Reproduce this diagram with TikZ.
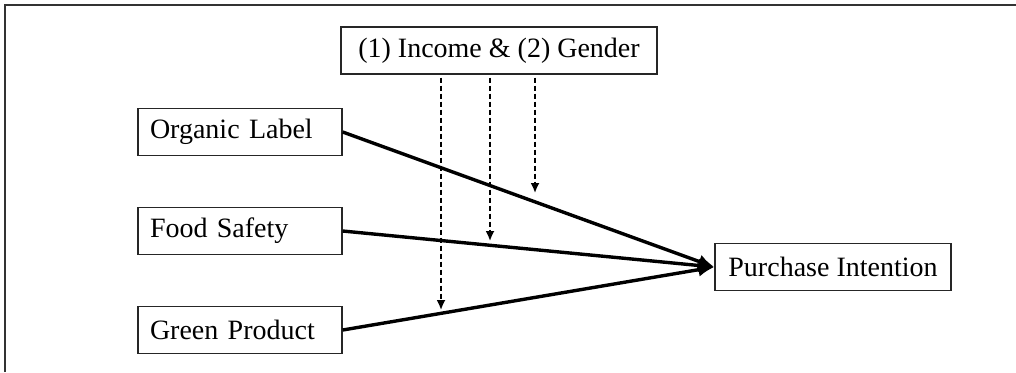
\documentclass[tikz,border=0pt]{standalone}
\usepackage{fontspec}
\setmainfont{Liberation Serif}
\usetikzlibrary{arrows.meta,calc}

\begin{document}
\begin{tikzpicture}[x=0.5pt,y=-0.5pt,font=\fontsize{14}{16}\selectfont]
\tikzstyle{var}=[draw=black!85,line width=0.7pt,rectangle,minimum height=23.5pt,inner sep=0pt]
\tikzstyle{leftvar}=[var,text width=90pt,align=left,minimum width=102pt]
\tikzstyle{path}=[line width=1.7pt,-{Latex[length=8pt,width=7pt]}]
\tikzstyle{moderate}=[line width=0.9pt,dash pattern=on 2.5pt off 1.5pt,-{Latex[length=5pt,width=4.5pt]}]
\useasboundingbox (0,0) rectangle (1016,372);
\draw[black!80,line width=1pt] (5,372) -- (5,5) -- (1016,5);
\node[var,minimum width=158pt] (M) at (499,50.5) {(1) Income \& (2) Gender};
\node[leftvar] (O) at (240,132) {Organic Label};
\node[leftvar] (F) at (240,231) {Food Safety};
\node[leftvar] (G) at (240,330) {Green Product};
\node[var,minimum width=118pt] (P) at (833,267) {Purchase Intention};
\coordinate (m1) at (441,310);
\coordinate (m2) at (490,241);
\coordinate (m3) at (535,193);
\foreach \p in {O,F,G}
	\draw[path] (\p.east) to (P.west);
\foreach \m in {m1,m2,m3}
	\draw[moderate] ($(M.south -| \m)+(0,3)$) to (\m);
\end{tikzpicture}
\end{document}
